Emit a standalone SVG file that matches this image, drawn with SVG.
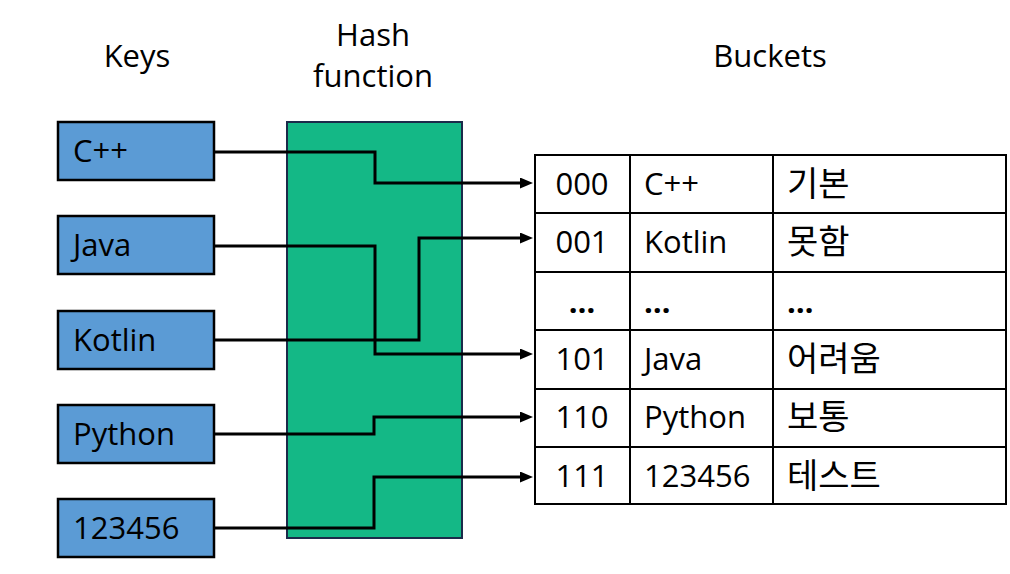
<svg xmlns="http://www.w3.org/2000/svg" width="1010" height="574" viewBox="0 0 1010 574">
  <style>
    text { font-family: "Open Sans", "Noto Sans CJK KR", sans-serif; font-size: 31px; fill: #000; }
    .title { font-size: 31px; }
    .ko { font-family: "Noto Sans CJK KR", sans-serif; font-size: 34px; }
    .dots { font-weight: bold; }
    .key { fill: #5B9BD5; stroke: #000; stroke-width: 2.5; }
    .hash { fill: #14B886; stroke: #1B2A4A; stroke-width: 2; }
    .cell { fill: #fff; stroke: #000; stroke-width: 2; }
    .grid { stroke: #000; stroke-width: 2; fill: none; }
    .conn { fill: none; stroke: #000; stroke-width: 3; stroke-linejoin: miter; }
    .mid { text-anchor: middle; }
  </style>
  <defs>
    <marker id="arrow" markerUnits="userSpaceOnUse" markerWidth="14" markerHeight="12" refX="7" refY="5.5" orient="auto">
      <path d="M0,0 L13,5.5 L0,11 z" fill="#000"/>
    </marker>
  </defs>
  <rect width="1010" height="574" fill="#fff"/>

  <g id="titles">
    <text class="title mid" x="137" y="67">Keys</text>
    <text class="title mid" x="373" y="46">Hash</text>
    <text class="title mid" x="373" y="87">function</text>
    <text class="title mid" x="770" y="67">Buckets</text>
  </g>

  <g id="hash-function">
    <rect class="hash" x="287" y="122" width="175" height="416"/>
  </g>

  <g id="key-cpp">
    <rect class="key" x="58" y="122" width="156" height="58"/>
    <text x="73" y="162">C++</text>
  </g>
  <g id="key-java">
    <rect class="key" x="58" y="216" width="156" height="58"/>
    <text x="73" y="256">Java</text>
  </g>
  <g id="key-kotlin">
    <rect class="key" x="58" y="311" width="156" height="58"/>
    <text x="73" y="351">Kotlin</text>
  </g>
  <g id="key-python">
    <rect class="key" x="58" y="405" width="156" height="58"/>
    <text x="73" y="445">Python</text>
  </g>
  <g id="key-123456">
    <rect class="key" x="58" y="499" width="156" height="58"/>
    <text x="73" y="539">123456</text>
  </g>

  <g id="buckets">
    <rect class="cell" x="535" y="155" width="471" height="349"/>
    <path class="grid" d="M535,213 H1006 M535,272 H1006 M535,330 H1006 M535,389 H1006 M535,447 H1006 M630,155 V504 M773,155 V504"/>
    <g id="bucket-000">
      <text class="mid" x="582" y="195">000</text>
      <text x="644" y="195">C++</text>
      <text class="ko" x="787" y="196">기본</text>
    </g>
    <g id="bucket-001">
      <text class="mid" x="582" y="253">001</text>
      <text x="644" y="253">Kotlin</text>
      <text class="ko" x="787" y="254">못함</text>
    </g>
    <g id="bucket-ellipsis">
      <text class="mid dots" x="582" y="313">…</text>
      <text class="dots" x="644" y="313">…</text>
      <text class="dots" x="787" y="313">…</text>
    </g>
    <g id="bucket-101">
      <text class="mid" x="582" y="370">101</text>
      <text x="644" y="370">Java</text>
      <text class="ko" x="787" y="371">어려움</text>
    </g>
    <g id="bucket-110">
      <text class="mid" x="582" y="428">110</text>
      <text x="644" y="428">Python</text>
      <text class="ko" x="787" y="429">보통</text>
    </g>
    <g id="bucket-111">
      <text class="mid" x="582" y="487">111</text>
      <text x="644" y="487">123456</text>
      <text class="ko" x="787" y="488">테스트</text>
    </g>
  </g>

  <g id="connectors">
    <path class="conn" marker-end="url(#arrow)" d="M214,152 H375 V183 H527"/>
    <path class="conn" marker-end="url(#arrow)" d="M214,246 H375 V354 H527"/>
    <path class="conn" marker-end="url(#arrow)" d="M214,340 H419 V238 H527"/>
    <path class="conn" marker-end="url(#arrow)" d="M214,434 H374 V417 H527"/>
    <path class="conn" marker-end="url(#arrow)" d="M214,528 H374 V477 H527"/>
  </g>
</svg>
